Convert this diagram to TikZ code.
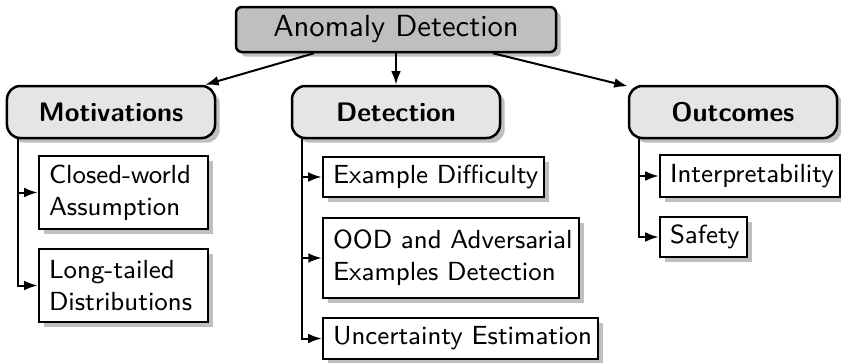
\documentclass[tikz,border=0pt]{standalone}
\usetikzlibrary{shadows,arrows.meta}
\begin{document}
\begin{tikzpicture}[x=0.34pt, y=-0.34pt, font=\sffamily,
  shad/.style={drop shadow={shadow xshift=1.6pt, shadow yshift=-1.6pt, fill=black!25, opacity=1}},
  rootbox/.style={draw, line width=0.85pt, fill=gray!50, rounded corners=2pt, shad, font=\sffamily\fontsize{10.4}{12.5}\selectfont, inner sep=0pt},
  catbox/.style={draw, line width=0.85pt, fill=gray!20, rounded corners=4.5pt, shad, font=\sffamily\bfseries\fontsize{9.1}{11}\selectfont, inner sep=0pt},
  leafbox/.style={draw, line width=0.85pt, fill=white, shad, font=\sffamily\fontsize{8.9}{10.9}\selectfont, align=left, inner xsep=3.4pt, inner ysep=0pt},
  arr/.style={-{Latex[length=4.6pt,width=3.3pt]}, line width=0.68pt}]
\useasboundingbox (0,0) rectangle (841,362);

\node[rootbox, minimum width=108.8pt, minimum height=15.3pt] (root) at (396,29.5) {Anomaly Detection};
\node[catbox, minimum width=70.72pt, minimum height=17.68pt] (mot) at (111,112) {Motivations};
\node[catbox, minimum width=70.72pt, minimum height=17.68pt] (det) at (396,112) {Detection};
\node[catbox, minimum width=70.72pt, minimum height=17.68pt] (out) at (733,112) {Outcomes};

\node[leafbox, text width=50.66pt, minimum height=24.82pt] (cw) at (123.5,192.5) {\mbox{Closed-world}\\\mbox{Assumption}};
\node[leafbox, text width=50.66pt, minimum height=24.82pt] (lt) at (123.5,285.5) {\mbox{Long-tailed}\\\mbox{Distributions}};
\node[leafbox, text width=68.34pt, minimum height=13.6pt] (ed) at (433.5,177) {\mbox{Example Difficulty}};
\node[leafbox, text width=80.2pt, minimum height=27.2pt] (ood) at (451,258) {\mbox{OOD and Adversarial}\\\mbox{Examples Detection}};
\node[leafbox, text width=86.7pt, minimum height=13.94pt] (ue) at (460.5,338.5) {\mbox{Uncertainty Estimation}};
\node[leafbox, text width=54.4pt, minimum height=14.28pt] (int) at (750,176) {\mbox{Interpretability}};
\node[leafbox, text width=22.78pt, minimum height=13.6pt] (saf) at (703.5,237) {\mbox{Safety}};

\draw[arr] (root) -- (mot);
\draw[arr] (root) -- (det);
\draw[arr] (root) -- (out);

\draw[arr] ([xshift=4.08pt]mot.south west) |- (cw.west);
\draw[arr] ([xshift=4.08pt]mot.south west) |- (lt.west);
\draw[arr] ([xshift=3.74pt]det.south west) |- (ed.west);
\draw[arr] ([xshift=3.74pt]det.south west) |- (ood.west);
\draw[arr] ([xshift=3.74pt]det.south west) |- (ue.west);
\draw[arr] ([xshift=3.74pt]out.south west) |- (int.west);
\draw[arr] ([xshift=3.74pt]out.south west) |- (saf.west);
\end{tikzpicture}
\end{document}
